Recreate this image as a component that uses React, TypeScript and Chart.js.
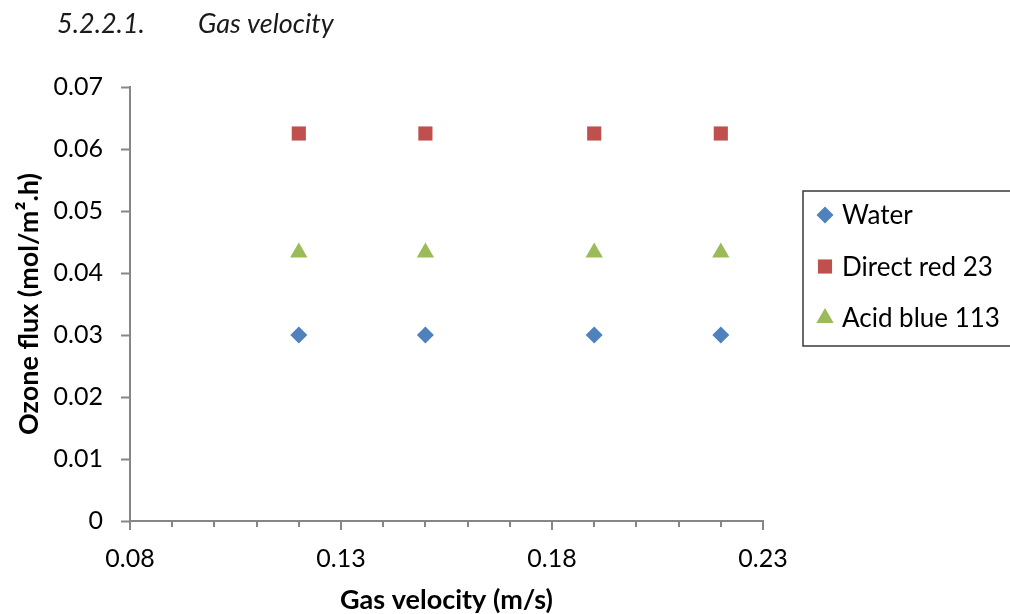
import React, { useEffect, useRef } from 'react';
import { Chart, registerables } from 'chart.js';
import { drawPoint } from 'chart.js/helpers';

Chart.register(...registerables);

const gasVelocity = [0.12, 0.15, 0.19, 0.22];
const water = [0.03, 0.03, 0.03, 0.03];
const directRed23 = [0.0625, 0.0625, 0.0625, 0.0625];
const acidBlue113 = [0.0433, 0.0433, 0.0433, 0.0433];
const seriesNames = ['Water', 'Direct red 23', 'Acid blue 113'];
const seriesColors = ['#4F81BD', '#C0504D', '#9BBB59'];
const xMajorTicks = [0.08, 0.13, 0.18, 0.23];
const xAxisTitle = 'Gas velocity (m/s)';
const yAxisTitle = 'Ozone flux (mol/m².h)';
const headingNumber = '5.2.2.1.';
const headingText = 'Gas velocity';

const FONT = 'Lato, "Open Sans", sans-serif';

const isMajor = (v: number) => xMajorTicks.some((m) => Math.abs(m - v) < 1e-6);

const headingPlugin = {
  id: 'heading',
  afterDraw(chart: any) {
    const ctx = chart.ctx;
    ctx.save();
    ctx.fillStyle = '#1a1a1a';
    ctx.font = `italic 27px ${FONT}`;
    ctx.textBaseline = 'alphabetic';
    ctx.textAlign = 'left';
    ctx.fillText(headingNumber, 57, 33);
    ctx.fillText(headingText, 198, 33);
    ctx.restore();
  },
};

const minorTickPlugin = {
  id: 'xTicks',
  afterDraw(chart: any) {
    const xs = chart.scales.x;
    const ctx = chart.ctx;
    ctx.save();
    ctx.strokeStyle = '#868686';
    ctx.lineWidth = 2;
    xs.ticks.forEach((t: any) => {
      const px = Math.round(xs.getPixelForValue(t.value));
      const len = isMajor(t.value) ? 9 : 6;
      ctx.beginPath();
      ctx.moveTo(px, xs.top);
      ctx.lineTo(px, xs.top + len);
      ctx.stroke();
    });
    ctx.restore();
  },
};

const legendPlugin = {
  id: 'boxLegend',
  afterDraw(chart: any) {
    const ctx = chart.ctx;
    ctx.save();
    ctx.strokeStyle = '#3a3a3a';
    ctx.lineWidth = 1.5;
    ctx.strokeRect(803, 191, 230, 155);
    chart.data.datasets.forEach((ds: any, i: number) => {
      const y = 215 + i * 51.5;
      ctx.fillStyle = ds.backgroundColor;
      drawPoint(ctx, { pointStyle: ds.pointStyle, radius: ds.pointRadius, rotation: 0, borderWidth: 0 } as any, 825, y);
      ctx.fillStyle = '#000';
      ctx.font = `26px ${FONT}`;
      ctx.textBaseline = 'middle';
      ctx.textAlign = 'left';
      ctx.fillText(ds.label, 842, y + 1);
    });
    ctx.restore();
  },
};

export default function App() {
  const ref = useRef<HTMLCanvasElement>(null);

  useEffect(() => {
    if (!ref.current) return;
    const styles = ['rectRot', 'rect', 'triangle'];
    const radii = [8.5, 10, 10];
    const values = [water, directRed23, acidBlue113];
    const chart = new Chart(ref.current, {
      type: 'scatter',
      data: {
        datasets: values.map((vals, i) => ({
          label: seriesNames[i],
          data: gasVelocity.map((x, j) => ({ x, y: vals[j] })),
          pointStyle: styles[i],
          pointRadius: radii[i],
          pointHoverRadius: radii[i],
          backgroundColor: seriesColors[i],
          borderColor: seriesColors[i],
          pointBorderWidth: 0,
          showLine: false,
        })),
      },
      options: {
        responsive: true,
        maintainAspectRatio: false,
        animation: false,
        layout: { padding: { left: 0, top: 87, right: 247, bottom: 0 } },
        plugins: { legend: { display: false }, tooltip: { enabled: false }, title: { display: false } },
        scales: {
          x: {
            type: 'linear',
            min: 0.08,
            max: 0.23,
            afterFit: (s: any) => { s.height = 93; },
            ticks: {
              stepSize: 0.01,
              autoSkip: false,
              maxRotation: 0,
              padding: 23,
              color: '#000',
              font: { family: FONT, size: 25 },
              callback: (v: any) => (isMajor(Number(v)) ? Number(v).toFixed(2) : ''),
            },
            grid: { drawOnChartArea: false, drawTicks: false },
            border: { display: true, color: '#868686', width: 2 },
            title: {
              display: true,
              text: xAxisTitle,
              color: '#000',
              font: { family: FONT, size: 27, weight: 'bold', lineHeight: 1 },
              padding: { top: 0, bottom: 0 },
            },
          },
          y: {
            type: 'linear',
            min: 0,
            max: 0.07,
            afterFit: (s: any) => { s.width = 130; },
            ticks: {
              stepSize: 0.01,
              padding: 18,
              color: '#000',
              font: { family: FONT, size: 25 },
              callback: (v: any) => (Math.abs(Number(v)) < 1e-9 ? '0' : Number(v).toFixed(2)),
            },
            grid: { drawOnChartArea: false, drawTicks: true, tickLength: 9, tickWidth: 2, tickColor: '#868686' },
            border: { display: true, color: '#868686', width: 2 },
            title: {
              display: true,
              text: yAxisTitle,
              color: '#000',
              font: { family: FONT, size: 27, weight: 'bold', lineHeight: 1 },
              padding: { top: 15.5, bottom: 0 },
            },
          },
        },
      },
      plugins: [headingPlugin, minorTickPlugin, legendPlugin],
    });
    return () => chart.destroy();
  }, []);

  return (
    <div style={{ position: 'fixed', left: 0, top: 0, width: 1010, height: 614, background: '#fff' }}>
      <canvas ref={ref} />
    </div>
  );
}
